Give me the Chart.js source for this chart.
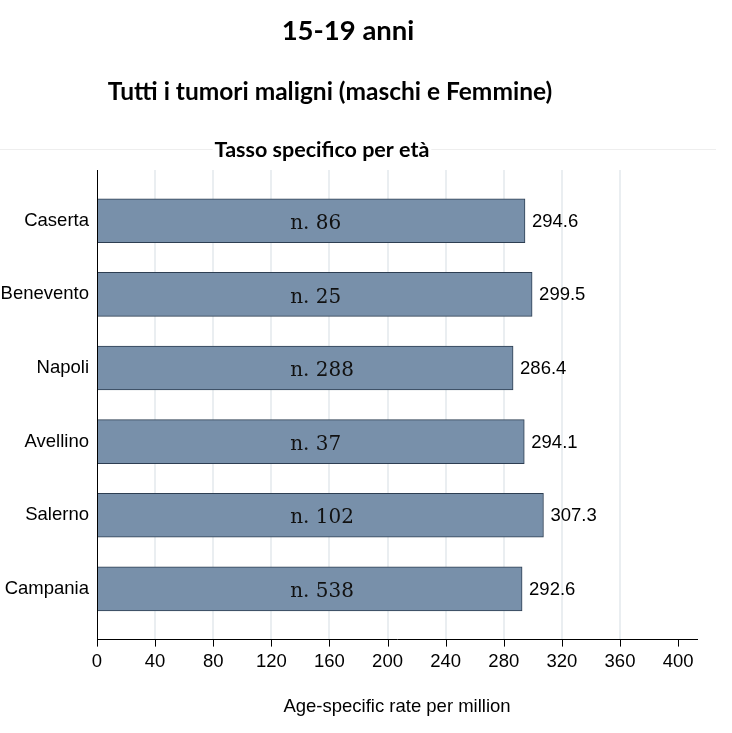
<!DOCTYPE html>
<html>
<head>
<meta charset="utf-8">
<script src="https://cdn.jsdelivr.net/npm/chart.js@4.4.0/dist/chart.umd.min.js"></script>
<style>
  html, body { margin: 0; padding: 0; background: #fff; }
  #wrap { width: 732px; height: 733px; }
</style>
</head>
<body>
<div id="wrap"><canvas id="c" width="732" height="733"></canvas></div>
<script>
// dati
const categories = ['Caserta', 'Benevento', 'Napoli', 'Avellino', 'Salerno', 'Campania'];
const rates = [294.6, 299.5, 286.4, 294.1, 307.3, 292.6];
const counts = [86, 25, 288, 37, 102, 538];
const xTicks = [0, 40, 80, 120, 160, 200, 240, 280, 320, 360, 400];

const title = '15-19 anni';
const subtitle = 'Tutti i tumori maligni (maschi e Femmine)';
const panelTitle = 'Tasso specifico per età';
const xTitle = 'Age-specific rate per million';

const barFill = '#7890aa';
const barEdge = '#2d3e52';
const gridColor = '#eaeef1';
const sans = '"Liberation Sans", Arial, sans-serif';

// titoli in alto + linea sottile
const titlesPlugin = {
  id: 'titles',
  beforeDraw(chart) {
    const ctx = chart.ctx;
    ctx.save();
    ctx.fillStyle = '#fff';
    ctx.fillRect(0, 0, chart.width, chart.height);
    ctx.strokeStyle = '#eeeeee';
    ctx.lineWidth = 1;
    ctx.beginPath();
    ctx.moveTo(0, 149.5);
    ctx.lineTo(716, 149.5);
    ctx.stroke();
    ctx.fillStyle = '#000';
    ctx.textAlign = 'center';
    ctx.textBaseline = 'middle';
    ctx.font = 'bold 27.5px Lato, "Open Sans", sans-serif';
    ctx.fillText(title, 348, 31);
    ctx.font = 'bold 24.5px Lato, "Open Sans", sans-serif';
    ctx.fillText(subtitle, 330, 92);
    ctx.font = 'bold 21.5px Lato, "Open Sans", sans-serif';
    const w = ctx.measureText(panelTitle).width;
    ctx.fillStyle = '#fff';
    ctx.fillRect(322 - w / 2 - 2, 138, w + 4, 24);
    ctx.fillStyle = '#000';
    ctx.fillText(panelTitle, 322, 150);
    ctx.restore();
  }
};

// etichette: valore a destra della barra, numero di casi dentro
const labelsPlugin = {
  id: 'barLabels',
  afterDatasetsDraw(chart) {
    const ctx = chart.ctx;
    const meta = chart.getDatasetMeta(0);
    const xs = chart.scales.x;
    ctx.save();
    ctx.textBaseline = 'middle';
    meta.data.forEach((bar, i) => {
      ctx.fillStyle = '#000';
      ctx.textAlign = 'left';
      ctx.font = '18.5px ' + sans;
      ctx.fillText(rates[i].toFixed(1), bar.x + 7, bar.y + 1);
      ctx.fillStyle = '#111';
      ctx.font = '20px "DejaVu Serif", "Liberation Serif", serif';
      ctx.fillText('n. ' + counts[i], xs.getPixelForValue(133), bar.y + 3);
    });
    ctx.restore();
  }
};

new Chart(document.getElementById('c'), {
  type: 'bar',
  data: {
    datasets: [{
      data: rates.map((v, i) => ({ x: v, y: i })),
      backgroundColor: barFill,
      borderColor: barEdge,
      borderWidth: 1,
      barThickness: 44
    }]
  },
  options: {
    indexAxis: 'y',
    responsive: false,
    animation: false,
    layout: { padding: { left: 0, right: 35, top: 170, bottom: 0 } },
    plugins: { legend: { display: false }, tooltip: { enabled: false } },
    scales: {
      x: {
        type: 'linear',
        min: 0,
        max: 413,
        afterBuildTicks: (s) => { s.ticks = xTicks.map(v => ({ value: v })); },
        ticks: {
          color: '#000',
          padding: 11,
          font: { family: sans, size: 18.5 }
        },
        grid: {
          color: (c) => (c.tick && c.tick.value > 0 && c.tick.value < 400) ? gridColor : 'rgba(0,0,0,0)',
          lineWidth: 2,
          drawTicks: false
        },
        border: { display: true, color: '#000', width: 1 },
        title: {
          display: true,
          text: xTitle,
          color: '#000',
          padding: { top: 12, bottom: 15 },
          font: { family: sans, size: 18.5 }
        }
      },
      y: {
        type: 'linear',
        reverse: true,
        offset: false,
        bounds: 'data',
        min: -0.69,
        max: 5.69,
        afterDataLimits: (s) => { s.min = -0.69; s.max = 5.69; },
        afterBuildTicks: (s) => { s.ticks = categories.map((c, i) => ({ value: i })); },
        afterFit: (s) => { s.width = 97; },
        ticks: {
          color: '#000',
          padding: 8,
          callback: (v) => categories[v],
          font: { family: sans, size: 18.5 }
        },
        grid: { display: false, drawTicks: false },
        border: { display: true, color: '#000', width: 1 }
      }
    }
  },
  plugins: [titlesPlugin, labelsPlugin, {
    id: 'xTickMarks',
    afterDraw(chart) {
      const xs = chart.scales.x;
      const ctx = chart.ctx;
      ctx.save();
      ctx.strokeStyle = '#000';
      ctx.lineWidth = 1;
      xTicks.forEach(v => {
        const px = Math.round(xs.getPixelForValue(v)) + 0.5;
        ctx.beginPath();
        ctx.moveTo(px, chart.chartArea.bottom);
        ctx.lineTo(px, chart.chartArea.bottom + 7);
        ctx.stroke();
      });
      ctx.restore();
    }
  }]
});
</script>
</body>
</html>
